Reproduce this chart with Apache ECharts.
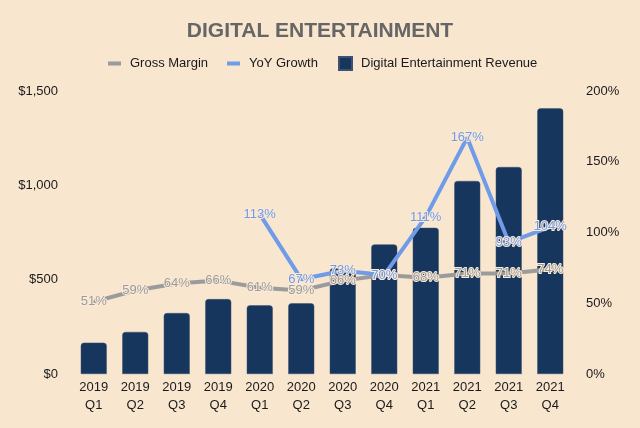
<!DOCTYPE html>
<html>
<head>
<meta charset="utf-8">
<script src="https://cdn.jsdelivr.net/npm/echarts@6/dist/echarts.min.js"></script>
<style>
html,body{margin:0;padding:0;background:#f8e6cf;}
#main{width:640px;height:428px;}
</style>
</head>
<body>
<div id="main"></div>
<script>
const categories = ['2019\nQ1','2019\nQ2','2019\nQ3','2019\nQ4','2020\nQ1','2020\nQ2','2020\nQ3','2020\nQ4','2021\nQ1','2021\nQ2','2021\nQ3','2021\nQ4'];
const revenue = [166, 223, 323, 397, 364, 375, 560, 687, 775, 1023, 1097, 1408];
const grossMargin = [51, 59, 64, 66, 61, 59, 66, 70, 68, 71, 71, 74];
const yoyGrowth = [null, null, null, null, 113, 67, 73, 70, 111, 167, 93, 104];
const leftTicks = [0, 500, 1000, 1500];
const rightTicks = [0, 50, 100, 150, 200];

const FONT = 'Liberation Sans, Arial, sans-serif';
const BG = '#f8e6cf';
const chart = echarts.init(document.getElementById('main'));

const pctLabel = (color) => ({
  show: true,
  position: 'inside',
  formatter: p => p.value == null ? '' : p.value + '%',
  color: color,
  fontSize: 13,
  fontFamily: FONT,
  textBorderColor: '#fbead6',
  textBorderWidth: 2
});

chart.setOption({
  backgroundColor: BG,
  animation: false,
  title: {
    text: 'DIGITAL ENTERTAINMENT',
    left: 'center',
    top: 16,
    textStyle: { fontFamily: FONT, fontSize: 21, fontWeight: 'bold', color: '#666666' }
  },
  legend: [
    {
      data: ['Gross Margin', 'YoY Growth'],
      left: 103, top: 52,
      icon: 'rect', itemWidth: 13, itemHeight: 4, itemGap: 19,
      textStyle: { fontFamily: FONT, fontSize: 13, color: '#1a1a1a', padding: [0, 0, 0, 4] }
    },
    {
      data: ['Digital Entertainment Revenue'],
      left: 333, top: 51,
      icon: 'rect', itemWidth: 13, itemHeight: 13,
      textStyle: { fontFamily: FONT, fontSize: 13, color: '#1a1a1a', padding: [0, 0, 0, 4] }
    }
  ],
  grid: { left: 73, right: 69, top: 91, bottom: 54 },
  xAxis: {
    type: 'category',
    data: categories,
    axisLine: { show: false },
    axisTick: { show: false },
    axisLabel: { fontFamily: FONT, fontSize: 13, color: '#1a1a1a', lineHeight: 18, margin: 4, interval: 0 }
  },
  yAxis: [
    {
      type: 'value', min: leftTicks[0], max: leftTicks[leftTicks.length - 1], interval: 500,
      splitLine: { show: false }, axisLine: { show: false }, axisTick: { show: false },
      axisLabel: {
        fontFamily: FONT, fontSize: 13, color: '#1a1a1a', margin: 15,
        formatter: v => '$' + v.toLocaleString('en-US')
      }
    },
    {
      type: 'value', min: rightTicks[0], max: rightTicks[rightTicks.length - 1], interval: 50,
      splitLine: { show: false }, axisLine: { show: false }, axisTick: { show: false },
      axisLabel: { fontFamily: FONT, fontSize: 13, color: '#1a1a1a', margin: 15, formatter: v => v + '%' }
    }
  ],
  series: [
    {
      name: 'Digital Entertainment Revenue',
      type: 'bar',
      data: revenue,
      barWidth: 26,
      yAxisIndex: 0,
      itemStyle: { color: '#17365d', borderRadius: [3, 3, 0, 0], borderColor: '#3d5272', borderWidth: 0.5 }
    },
    {
      name: 'Gross Margin',
      type: 'line',
      data: grossMargin,
      yAxisIndex: 1,
      symbol: 'circle', symbolSize: 2,
      lineStyle: { color: '#9b9b9b', width: 4 },
      itemStyle: { color: '#9b9b9b' },
      label: pctLabel('#9b9b9b')
    },
    {
      name: 'YoY Growth',
      type: 'line',
      data: yoyGrowth,
      yAxisIndex: 1,
      symbol: 'circle', symbolSize: 2,
      lineStyle: { color: '#6f9be8', width: 4 },
      itemStyle: { color: '#6f9be8' },
      label: pctLabel('#6f9be8')
    }
  ]
});
</script>
</body>
</html>
